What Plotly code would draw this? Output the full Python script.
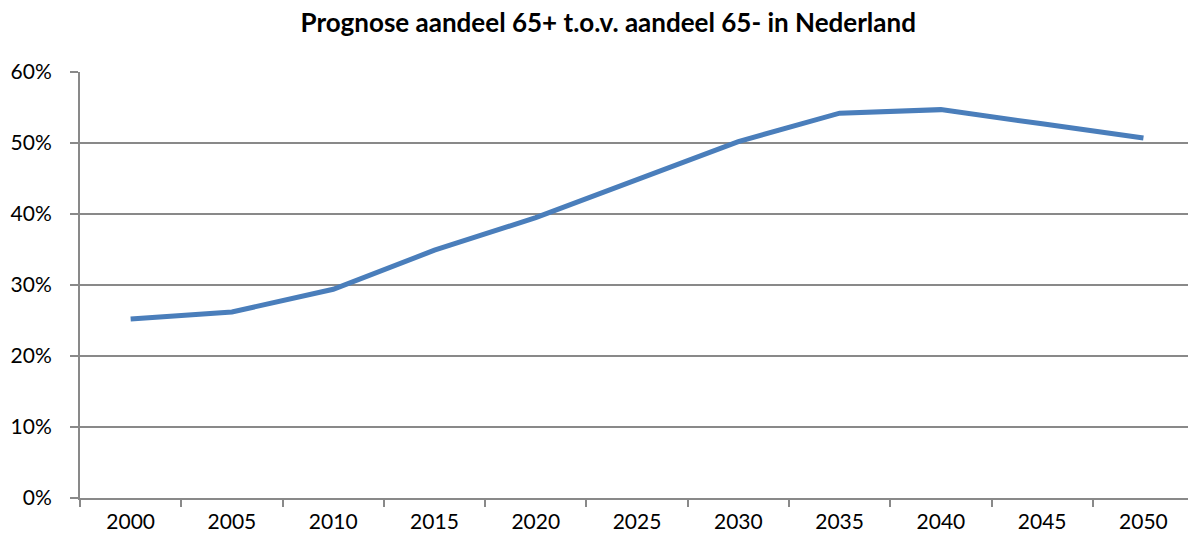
import plotly.graph_objects as go

years = ["2000", "2005", "2010", "2015", "2020", "2025", "2030", "2035", "2040", "2045", "2050"]
share = [0.252, 0.262, 0.294, 0.349, 0.395, 0.449, 0.502, 0.542, 0.547, 0.527, 0.507]
y_ticks = [0, 0.1, 0.2, 0.3, 0.4, 0.5, 0.6]
title_text = "Prognose aandeel 65+ t.o.v. aandeel 65- in Nederland"

GRID = "#898989"
FONT = "Lato, 'Open Sans', sans-serif"

fig = go.Figure()
fig.add_trace(go.Scatter(
    x=years, y=share, mode="lines",
    line=dict(color="#4A7EBB", width=5),
    hoverinfo="x+y",
))

fig.update_layout(
    width=1188, height=543,
    paper_bgcolor="white", plot_bgcolor="white",
    margin=dict(l=80, r=0, t=72, b=45),
    showlegend=False,
    title=dict(text=f"<b>{title_text}</b>", x=0.512, xanchor="center",
               y=0.957, yanchor="middle",
               font=dict(family=FONT, size=26, color="black")),
    font=dict(family=FONT, size=21, color="black"),
)

fig.update_xaxes(
    type="category", range=[-0.5, 10.44],
    tickson="boundaries", ticks="outside", ticklen=7, tickwidth=2, tickcolor=GRID,
    showline=True, linecolor=GRID, linewidth=2,
    showgrid=False, zeroline=False,
    tickfont=dict(family=FONT, size=21, color="black"),
    ticklabelstandoff=4,
)
fig.update_yaxes(
    range=[0, 0.6], tickvals=y_ticks, tickformat=".0%",
    ticks="outside", ticklen=8, tickwidth=2, tickcolor=GRID,
    showline=True, linecolor=GRID, linewidth=2,
    showgrid=True, gridcolor=GRID, gridwidth=2, zeroline=False,
    tickfont=dict(family=FONT, size=21, color="black"),
    ticklabelstandoff=14,
)

fig.write_html("out.html",
               config={"displayModeBar": False},
               post_script="document.body.style.margin='0';document.body.style.overflow='hidden';")
